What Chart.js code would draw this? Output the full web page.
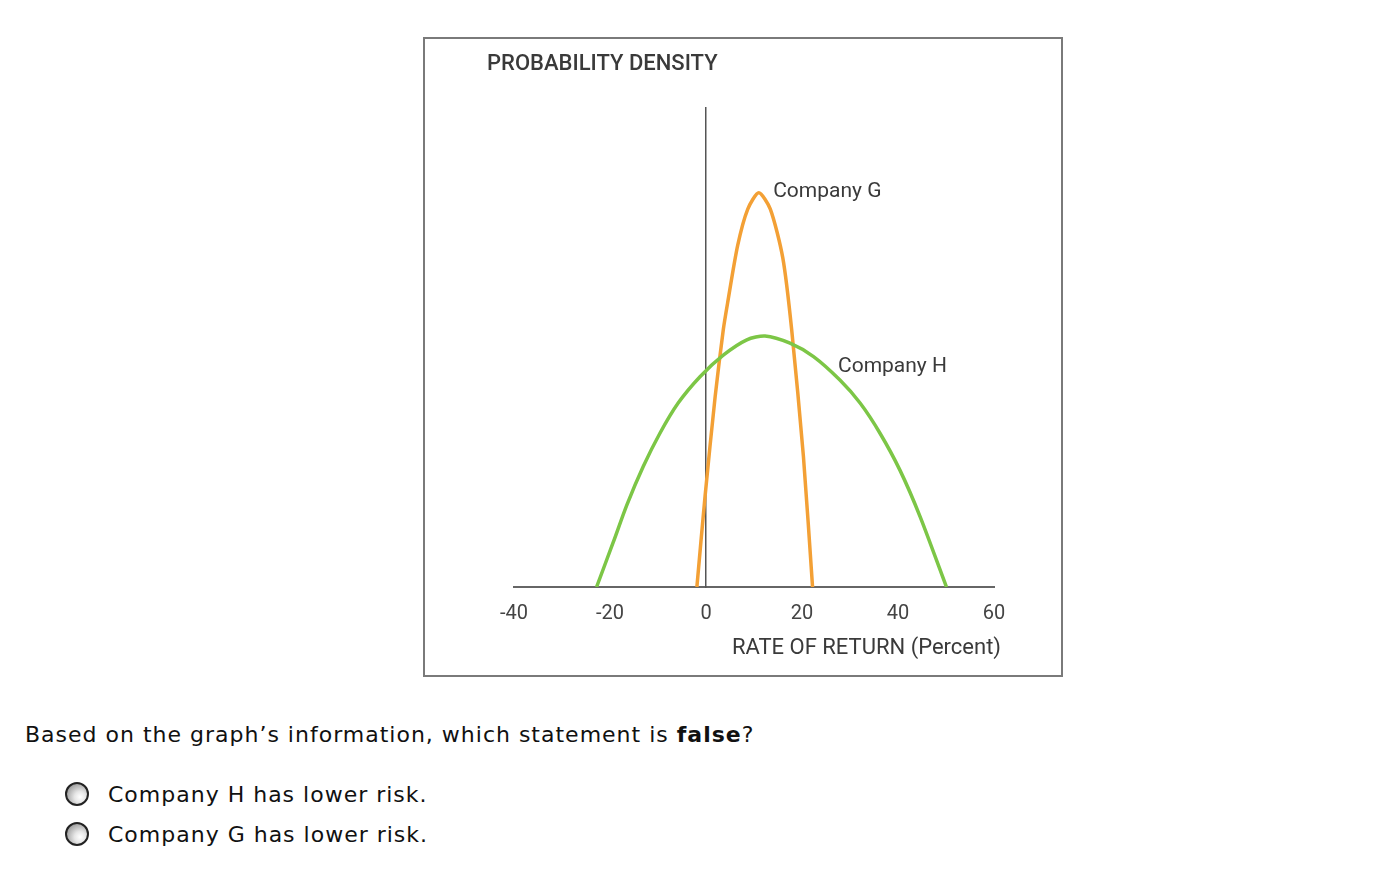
<!DOCTYPE html>
<html>
<head>
<meta charset="utf-8">
<script src="https://cdn.jsdelivr.net/npm/chart.js@4"></script>
<style>
  body { margin: 0; background: #fff; width: 1394px; height: 884px; position: relative; font-family: "DejaVu Sans", Verdana, sans-serif; }
  #box { position: absolute; left: 423px; top: 37px; width: 636px; height: 636px; border: 2px solid #7a7a7a; }
  #box canvas { display: block; }
  .q { position: absolute; left: 25px; top: 722px; font-size: 22px; letter-spacing: 1px; color: #111; white-space: nowrap; }
  .opt { position: absolute; left: 65px; font-size: 22px; letter-spacing: 1px; color: #111; white-space: nowrap; }
  .radio { display: inline-block; width: 24px; height: 24px; border: 2px solid #222; border-radius: 50%; box-sizing: border-box;
    background: radial-gradient(circle at 65% 65%, #fff 0%, #e6e6e6 30%, #9a9a9a 80%, #777 100%); vertical-align: -4px; margin-right: 19px; }
</style>
</head>
<body>
<div id="box"><canvas id="chart" width="636" height="636"></canvas></div>
<div class="q">Based on the graph’s information, which statement is <b>false</b>?</div>
<div class="opt" style="top:782px"><span class="radio"></span>Company H has lower risk.</div>
<div class="opt" style="top:822px"><span class="radio"></span>Company G has lower risk.</div>
<script>
// rate of return (%) and probability density (axis top = 100)
const returnsG = [-1.9, -0.2, 1.9, 3.6, 4.5, 6.6, 8.7, 11, 13.4, 16, 17.85, 20.3, 22.2];
const densityG = [0, 18.9, 39.7, 53.7, 59.3, 71.3, 78.9, 82.3, 78.9, 68.7, 53.7, 27.2, 0];
const returnsH = [-22.8, -19.3, -16.5, -13.1, -9.6, -5.8, -1.25, 3.6, 8.5, 12.3, 17.5, 22.4, 27.9, 32.1, 36.25, 40.4, 44.6, 50.1];
const densityH = [0, 9.4, 17.1, 25.1, 32.1, 38.4, 43.9, 48.4, 51.6, 52.4, 50.9, 48.1, 43.2, 38.4, 32.1, 24.4, 14.7, 0];
const xTicks = [-40, -20, 0, 20, 40, 60];

const chartFont = '"Roboto", "DejaVu Sans", sans-serif';
const textColor = '#3a3a3a';

function toPoints(xs, ys) {
  return xs.map((x, i) => ({ x: x, y: ys[i] }));
}

// titles and curve labels
const labelPlugin = {
  id: 'labels',
  afterDraw(chart) {
    const ctx = chart.ctx;
    const xs = chart.scales.x, ys = chart.scales.y;
    ctx.save();
    ctx.fillStyle = textColor;
    ctx.textBaseline = 'middle';
    ctx.font = '500 22px ' + chartFont;
    ctx.textAlign = 'left';
    ctx.fillText('PROBABILITY DENSITY', 62, 25);
    ctx.font = '21px ' + chartFont;
    ctx.fillText('Company G', xs.getPixelForValue(14), ys.getPixelForValue(82.5));
    ctx.fillText('Company H', xs.getPixelForValue(27.5), ys.getPixelForValue(46));
    ctx.textAlign = 'right';
    ctx.font = '22px ' + chartFont;
    ctx.fillText('RATE OF RETURN (Percent)', 576, 609);
    ctx.restore();
  }
};

new Chart(document.getElementById('chart'), {
  type: 'line',
  data: {
    datasets: [
      { label: 'Company H', data: toPoints(returnsH, densityH), borderColor: '#7cc646', borderWidth: 3.5, pointRadius: 0, tension: 0.25 },
      { label: 'Company G', data: toPoints(returnsG, densityG), borderColor: '#f3a035', borderWidth: 3.5, pointRadius: 0, tension: 0.25 }
    ]
  },
  options: {
    responsive: false,
    animation: false,
    layout: { padding: { left: 89, right: 67, top: 69, bottom: 0 } },
    plugins: { legend: { display: false }, tooltip: { enabled: false } },
    scales: {
      x: {
        type: 'linear', min: -40, max: 60,
        afterBuildTicks: s => { s.ticks = xTicks.map(v => ({ value: v })); },
        afterFit: s => { s.height = 88; },
        grid: { display: false },
        border: { display: true, color: '#666', width: 2 },
        ticks: { color: '#444', font: { family: chartFont, size: 20 }, padding: 7 }
      },
      y: {
        type: 'linear', min: 0, max: 100,
        position: { x: 0 },
        grid: { display: false },
        border: { display: true, color: '#555', width: 1.5 },
        ticks: { display: false }
      }
    }
  },
  plugins: [labelPlugin]
});
</script>
</body>
</html>
